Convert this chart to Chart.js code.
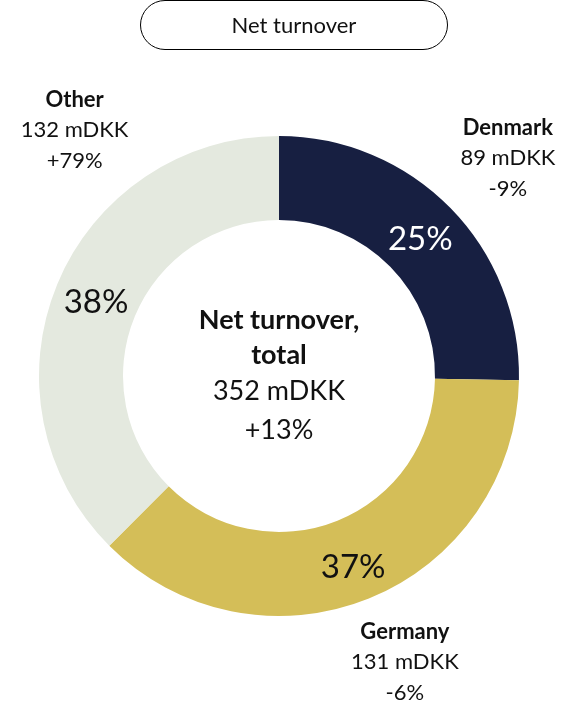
<!DOCTYPE html>
<html lang="en">
<head>
    <meta charset="UTF-8">
    <title>Net turnover</title>
    <script src="https://cdn.jsdelivr.net/npm/chart.js"></script>
    <style>
        body {
            margin: 0;
            background-color: #fff;
            font-family: Lato, sans-serif;
        }

        .wrap {
            position: relative;
            width: 567px;
            height: 706px;
        }

        .title-pill {
            position: absolute;
            left: 140px;
            top: 0px;
            width: 306px;
            height: 48px;
            border: 1.6px solid #000;
            border-radius: 26px;
            text-align: center;
            line-height: 48px;
            font-size: 22px;
            color: #111;
        }

        #donut {
            position: absolute;
            left: 0;
            top: 0;
        }
    </style>
</head>
<body>
    <div class="wrap">
        <canvas id="donut" width="567" height="706"></canvas>
        <div class="title-pill">Net turnover</div>
    </div>

    <script>
        const regions = ['Denmark', 'Germany', 'Other'];
        const turnover = [89, 131, 132];          // mDKK
        const shares = ['25%', '37%', '38%'];
        const growth = ['-9%', '-6%', '+79%'];
        const totalTurnover = 352;
        const totalGrowth = '+13%';

        const sliceColors = ['#171f41', '#d4be58', '#e4e9df'];
        const shareColors = ['#ffffff', '#111111', '#111111'];

        // where the outside name labels sit (angle in deg clockwise from top, distance from centre)
        const outerLabelPos = [
            { angle: 46.4, dist: 316 },
            { angle: 156.2, dist: 312 },
            { angle: 320.3, dist: 320 }
        ];

        const labelPlugin = {
            id: 'labels',
            afterDatasetsDraw(chart) {
                const ctx = chart.ctx;
                const arcs = chart.getDatasetMeta(0).data;
                const cx = arcs[0].x;
                const cy = arcs[0].y;
                ctx.save();
                ctx.textAlign = 'center';
                ctx.textBaseline = 'middle';

                // share inside each slice
                arcs.forEach((arc, i) => {
                    const p = arc.getCenterPoint();
                    ctx.fillStyle = shareColors[i];
                    ctx.font = '33px Lato, sans-serif';
                    ctx.fillText(shares[i], p.x, p.y + (i === 1 ? 8 : 2));
                });

                // name / value / growth outside
                regions.forEach((name, i) => {
                    const a = outerLabelPos[i].angle * Math.PI / 180;
                    const x = cx + Math.sin(a) * outerLabelPos[i].dist;
                    const y = cy - Math.cos(a) * outerLabelPos[i].dist;
                    ctx.fillStyle = '#111';
                    ctx.font = 'bold 22px Lato, sans-serif';
                    ctx.fillText(name, x, y - 30);
                    ctx.font = '22px Lato, sans-serif';
                    ctx.fillText(turnover[i] + ' mDKK', x, y);
                    ctx.fillText(growth[i], x, y + 31);
                });

                // total in the hole
                ctx.fillStyle = '#111';
                ctx.font = 'bold 27px Lato, sans-serif';
                ctx.fillText('Net turnover,', cx, cy - 56);
                ctx.fillText('total', cx, cy - 21);
                ctx.font = '27px Lato, sans-serif';
                ctx.fillText(totalTurnover + ' mDKK', cx, cy + 15);
                ctx.fillText(totalGrowth, cx, cy + 54);
                ctx.restore();
            }
        };

        new Chart(document.getElementById('donut'), {
            type: 'doughnut',
            data: {
                labels: regions,
                datasets: [{
                    data: turnover,
                    backgroundColor: sliceColors,
                    borderWidth: 0
                }]
            },
            options: {
                responsive: false,
                animation: false,
                cutout: '65%',
                layout: {
                    padding: { left: 39, right: 48, top: 136, bottom: 90 }
                },
                plugins: {
                    legend: { display: false },
                    tooltip: { enabled: false }
                }
            },
            plugins: [labelPlugin]
        });
    </script>
</body>
</html>
